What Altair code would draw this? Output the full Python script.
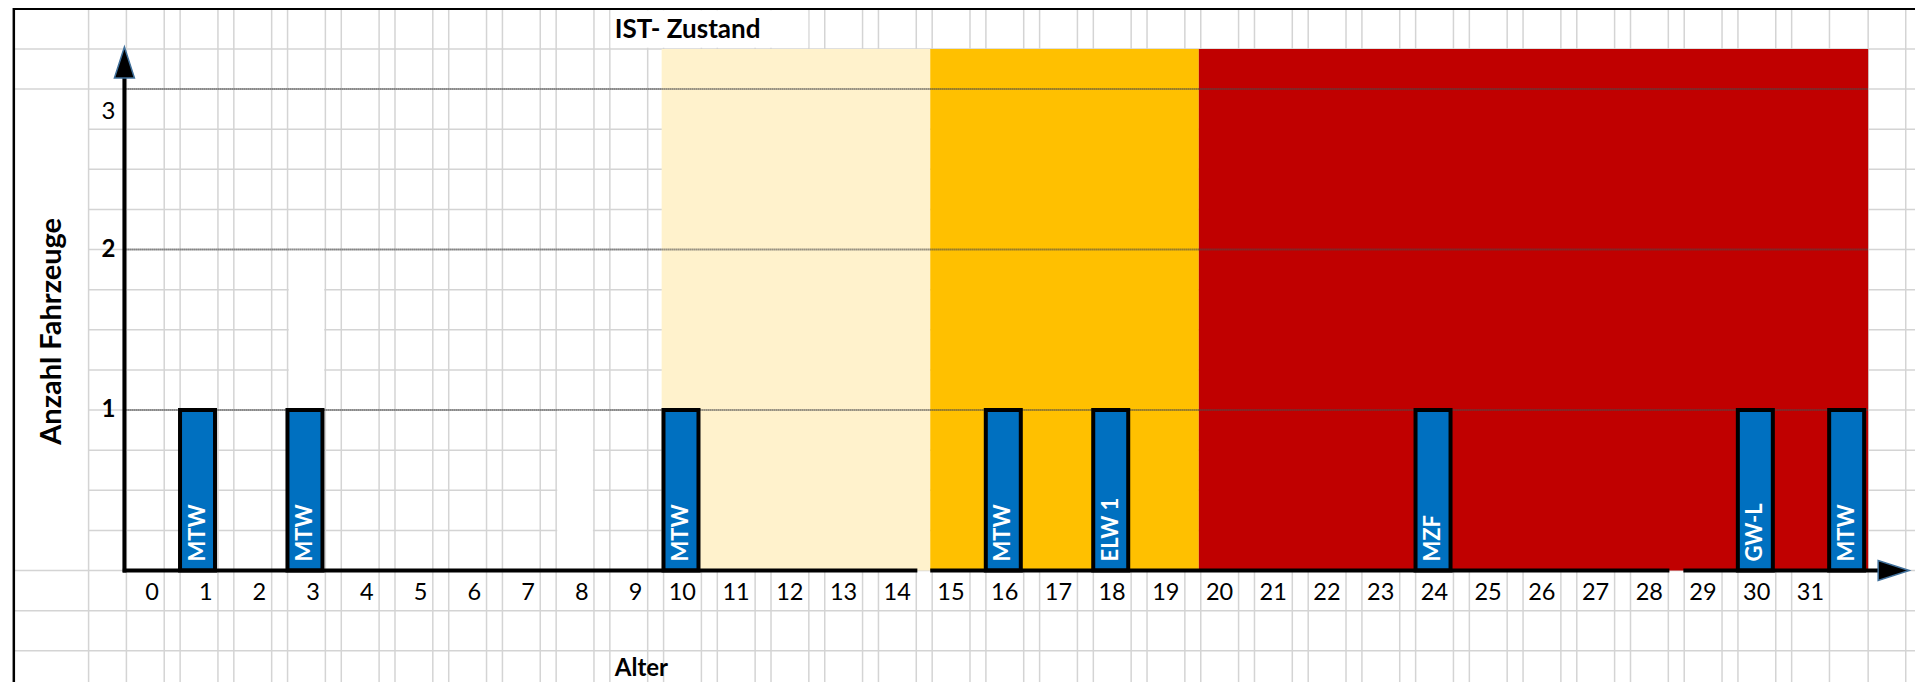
import altair as alt
import pandas as pd

# ---------------- data ----------------
ages = [1, 3, 10, 16, 18, 24, 30, 31.7]
counts = [1, 1, 1, 1, 1, 1, 1, 1]
vehicles = ["MTW", "MTW", "MTW", "MTW", "ELW 1", "MZF", "GW-L", "MTW"]

x_tick_values = list(range(0, 32))
x_tick_labels = [str(v) for v in x_tick_values]

y_tick_labels = ["3", "2", "1"]
y_tick_pos = [2.857, 2.0, 1.0]
y_tick_bold = [False, True, True]

gridline_values = [1, 2, 3]

band_start = [9.64, 14.64, 19.64]
band_end = [14.64, 19.64, 32.1]
band_top = 3.25
band_colors = ["#FFF2CC", "#FFC000", "#C00000"]

title_text = "IST- Zustand"
x_title = "Alter"
y_title = "Anzahl Fahrzeuge"

FONT = "Lato"

# ---------------- scales (age units / count units) ----------------
xs = alt.Scale(domain=[-2.4352, 32.9722], nice=False, zero=False)
ys = alt.Scale(domain=[-0.6947, 3.5047], nice=False, zero=False)


def X(f):
    return alt.X(f, type="quantitative", scale=xs, axis=None)


def Y(f):
    return alt.Y(f, type="quantitative", scale=ys, axis=None)


AXIS_X = -0.361
X_LEFT, X_RIGHT = -2.4352, 32.9722
Y_BOTTOM, Y_TOP = -0.6947, 3.5047

# ---------------- spreadsheet background grid (decoration) ----------------
col_lines = [-1.028, -0.324]
for k in range(0, 31):
    col_lines += [k + 0.38, k + 0.676]
col_lines += [31.38, 32.1, 32.8]

row_vals = [i * 0.25 for i in range(-2, 14)]
hrows = []
for v in row_vals:
    start = X_LEFT if (v <= 0 or v >= 3) else -1.028
    hrows.append({"v": v, "x0": start, "x1": X_RIGHT})
df_h = pd.DataFrame(hrows)
df_v = pd.DataFrame({"a": col_lines, "y0": Y_BOTTOM, "y1": Y_TOP})

df_patch = pd.DataFrame({
    "x0": [2.676 + 0.02, 7.676 + 0.02],
    "x1": [3.38 - 0.02, 8.38 - 0.02],
    "y0": [1.0, 0.0],
    "y1": [2.0, 1.0],
})
df_titlebox = pd.DataFrame({"x0": [8.69], "x1": [12.37], "y0": [3.257], "y1": [3.49]})

sheet_h = alt.Chart(df_h).mark_rule(color="#D4D4D4", strokeWidth=1.5).encode(
    x=X("x0"), x2="x1", y=Y("v"))
patches = alt.Chart(df_patch).mark_rect(color="white").encode(
    x=X("x0"), x2="x1", y=Y("y0"), y2="y1")
sheet_v = alt.Chart(df_v).mark_rule(color="#D4D4D4", strokeWidth=1.5).encode(
    x=X("a"), y=Y("y0"), y2="y1")
titlebox = alt.Chart(df_titlebox).mark_rect(color="white").encode(
    x=X("x0"), x2="x1", y=Y("y0"), y2="y1")

# ---------------- chart bands ----------------
df_bands = pd.DataFrame({"s": band_start, "e": band_end, "c": band_colors,
                         "t": band_top, "b": 0.0})
bands = alt.Chart(df_bands).mark_rect().encode(
    x=X("s"), x2="e", y=Y("b"), y2="t",
    color=alt.Color("c:N", scale=None))

# ---------------- value gridlines (dotted) ----------------
df_grid = pd.DataFrame({"v": gridline_values, "x0": AXIS_X, "x1": band_end[-1]})
grid = alt.Chart(df_grid).mark_rule(color="#4A4A4A", strokeWidth=2.2, strokeDash=[1, 1]).encode(
    x=X("x0"), x2="x1", y=Y("v"))

# ---------------- bars ----------------
df_bars = pd.DataFrame({"age": ages, "n": counts, "veh": vehicles})
bars = alt.Chart(df_bars).mark_bar(
    size=35, color="#0070C0", stroke="black", strokeWidth=4).encode(
    x=X("age"), y=Y("n"), y2=alt.Y2(datum=0))

bar_labels = alt.Chart(df_bars).mark_text(
    angle=270, align="left", baseline="middle", dx=9, font=FONT,
    fontWeight="bold", fontSize=22, color="white").encode(
    x=X("age"), y=alt.Y(datum=0, type="quantitative", scale=ys, axis=None), text="veh:N")

# ---------------- axis lines and arrows ----------------
df_yaxis = pd.DataFrame({"x": [AXIS_X], "y0": [-0.012], "y1": [3.1]})
yaxis = alt.Chart(df_yaxis).mark_rule(color="black", strokeWidth=4).encode(
    x=X("x"), y=Y("y0"), y2="y1")

df_xaxis = pd.DataFrame({"x0": [AXIS_X - 0.03, 14.64, 28.66],
                         "x1": [14.4, 28.4, 32.35], "y": [0, 0, 0]})
xaxis = alt.Chart(df_xaxis).mark_rule(color="black", strokeWidth=4).encode(
    x=X("x0"), x2="x1", y=Y("y"))

df_arrow_up = pd.DataFrame({"x": [AXIS_X], "y": [3.165]})
arrow_up = alt.Chart(df_arrow_up).mark_point(
    shape="M0,-1L0.645,1L-0.645,1Z", size=961, filled=True, color="black",
    stroke="#41719C", strokeWidth=1.5, opacity=1).encode(x=X("x"), y=Y("y"))

df_arrow_right = pd.DataFrame({"x": [32.575], "y": [0.0]})
arrow_right = alt.Chart(df_arrow_right).mark_point(
    shape="M1,0L-1,-0.645L-1,0.645Z", size=961, filled=True, color="black",
    stroke="#41719C", strokeWidth=1.5, opacity=1).encode(x=X("x"), y=Y("y"))

# ---------------- tick labels ----------------
df_xt = pd.DataFrame({"x": x_tick_values, "lab": x_tick_labels})
xticks = alt.Chart(df_xt).transform_calculate(ty="-0.14").mark_text(
    align="right", baseline="middle", dx=15, font=FONT, fontSize=23.5, color="black").encode(
    x=X("x"), y=Y("ty"), text="lab:N")

df_yt = pd.DataFrame({"lab": y_tick_labels, "v": y_tick_pos, "bold": y_tick_bold,
                      "x": AXIS_X})
yt_normal = alt.Chart(df_yt).transform_filter("!datum.bold").mark_text(
    align="right", baseline="middle", dx=-9, font=FONT, fontSize=24, color="black").encode(
    x=X("x"), y=Y("v"), text="lab:N")
yt_bold = alt.Chart(df_yt).transform_filter("datum.bold").mark_text(
    align="right", baseline="middle", dx=-9, font=FONT, fontSize=24, fontWeight="bold",
    color="black").encode(x=X("x"), y=Y("v"), text="lab:N")

# ---------------- titles ----------------
df_title = pd.DataFrame({"x": [8.676], "y": [3.368], "t": [title_text]})
title = alt.Chart(df_title).mark_text(
    align="left", baseline="middle", dx=5, font=FONT, fontSize=26, fontWeight="bold",
    color="black").encode(x=X("x"), y=Y("y"), text="t:N")

df_xtitle = pd.DataFrame({"x": [8.676], "y": [-0.615], "t": [x_title]})
xtitle = alt.Chart(df_xtitle).mark_text(
    align="left", baseline="middle", dx=5, font=FONT, fontSize=24, fontWeight="bold",
    color="black").encode(x=X("x"), y=Y("y"), text="t:N")

df_ytitle = pd.DataFrame({"x": [-1.714], "y": [1.49], "t": [y_title]})
ytitle = alt.Chart(df_ytitle).mark_text(
    angle=270, align="center", baseline="middle", font=FONT, fontSize=29,
    fontWeight="bold", color="black").encode(x=X("x"), y=Y("y"), text="t:N")

# ---------------- black sheet-object border ----------------
df_bt = pd.DataFrame({"x0": [X_LEFT], "x1": [X_RIGHT], "y": [3.5]})
border_top = alt.Chart(df_bt).mark_rule(color="black", strokeWidth=2.5).encode(
    x=X("x0"), x2="x1", y=Y("y"))
df_bl = pd.DataFrame({"x": [-2.42], "y0": [Y_BOTTOM], "y1": [Y_TOP]})
border_left = alt.Chart(df_bl).mark_rule(color="black", strokeWidth=2.5).encode(
    x=X("x"), y=Y("y0"), y2="y1")

chart = alt.layer(
    sheet_h, patches, sheet_v, titlebox, bands, grid, bars, yaxis, xaxis,
    arrow_up, arrow_right, bar_labels, xticks, yt_normal, yt_bold,
    title, xtitle, ytitle, border_top, border_left,
).properties(
    width=1912, height=674,
    autosize=alt.AutoSizeParams(type="none"),
    padding=0,
    background="white",
).configure_view(strokeWidth=0)

chart.save("out.html", embed_options={"renderer": "svg", "actions": False})
